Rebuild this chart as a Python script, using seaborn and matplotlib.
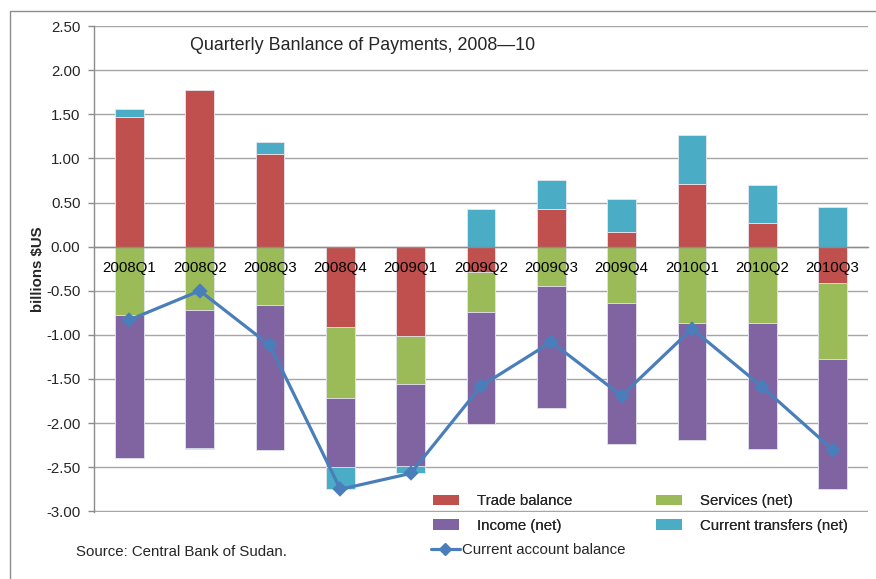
import numpy as np
import pandas as pd
import matplotlib
matplotlib.use("Agg")
import matplotlib.pyplot as plt
from matplotlib.patches import Patch, Rectangle
from matplotlib.lines import Line2D
import seaborn as sns

# Quarterly balance of payments components, billions of US dollars
quarters = ["2008Q1", "2008Q2", "2008Q3", "2008Q4", "2009Q1", "2009Q2",
            "2009Q3", "2009Q4", "2010Q1", "2010Q2", "2010Q3"]
trade_balance = [1.47, 1.77, 1.05, -0.91, -1.01, -0.29, 0.43, 0.17, 0.71, 0.27, -0.41]
services_net = [-0.78, -0.72, -0.66, -0.80, -0.55, -0.45, -0.45, -0.64, -0.87, -0.87, -0.86]
income_net = [-1.61, -1.56, -1.64, -0.79, -0.93, -1.27, -1.38, -1.60, -1.32, -1.42, -1.48]
current_transfers = [0.09, -0.01, 0.14, -0.25, -0.08, 0.43, 0.33, 0.37, 0.55, 0.43, 0.45]
current_account = [-0.83, -0.50, -1.12, -2.75, -2.57, -1.58, -1.08, -1.69, -0.93, -1.59, -2.30]

y_ticks = [2.5, 2.0, 1.5, 1.0, 0.5, 0.0, -0.5, -1.0, -1.5, -2.0, -2.5, -3.0]

series_names = ["Trade balance", "Services (net)", "Income (net)", "Current transfers (net)"]
series_vals = [trade_balance, services_net, income_net, current_transfers]
colors = ["#C0504D", "#9BBB59", "#8064A2", "#4BACC6"]
line_color = "#4A7EBB"

sns.set_theme(style="white")
plt.rcParams["font.family"] = ["Liberation Sans", "DejaVu Sans"]

fig = plt.figure(figsize=(8.76, 5.79), dpi=100)
ax = fig.add_axes([94.3 / 876, 1 - 511.7 / 579, (867.7 - 94.3) / 876, (511.7 - 25.7) / 579])

# Stacked bars: positive and negative parts stacked separately, drawn as
# cumulative bars from the outermost layer inwards
vals = np.array(series_vals)
pos = np.clip(vals, 0, None)
neg = np.clip(vals, None, 0)
cum_pos = np.cumsum(pos, axis=0)
cum_neg = np.cumsum(neg, axis=0)
bar_w = 0.41
for k in range(len(series_names) - 1, -1, -1):
    for cum in (cum_pos, cum_neg):
        df = pd.DataFrame({"quarter": quarters, "value": cum[k]})
        sns.barplot(data=df, x="quarter", y="value", order=quarters, color=colors[k],
                    saturation=1, width=bar_w, edgecolor="#E6E6F0", linewidth=0.6,
                    errorbar=None, ax=ax, zorder=2)

# Current account balance line
df_ca = pd.DataFrame({"quarter": quarters, "value": current_account})
sns.pointplot(data=df_ca, x="quarter", y="value", order=quarters, color=line_color,
              markers="D", markersize=6, linewidth=2.3, errorbar=None, ax=ax, zorder=4)

ax.set_ylim(-3.004, 2.504)
ax.set_xlim(-0.5, len(quarters) - 0.5)
ax.set_yticks(y_ticks)
ax.set_yticklabels([f"{v:.2f}" for v in y_ticks], fontsize=10.8)
ax.yaxis.grid(True, color="#A6A6A6", linewidth=1.0)
ax.set_axisbelow(True)
# category labels sit on top of the bars
ax.xaxis.set_zorder(5)

# Category axis crossing at zero
ax.spines["bottom"].set_position(("data", 0))
ax.spines["top"].set_visible(False)
ax.spines["right"].set_visible(False)
for s in ("bottom", "left"):
    ax.spines[s].set_color("#8C8C8C")
    ax.spines[s].set_linewidth(1.0)
ax.spines["bottom"].set_zorder(3)
ax.set_xticks(range(len(quarters)))
ax.set_xticklabels(quarters, fontsize=10.8)
ax.set_xticks(np.arange(-0.5, len(quarters), 1.0), minor=True)
ax.tick_params(axis="x", which="major", length=0, pad=10, colors="black")
ax.tick_params(axis="x", which="minor", length=4, width=1, color="#8C8C8C", direction="out")
ax.tick_params(axis="y", length=4, width=1, color="#8C8C8C", direction="out", pad=6, left=True)
ax.set_xlabel("")
ax.set_ylabel("billions $US", fontsize=10.8, fontweight="bold", labelpad=1)

ax.text(0.124, 0.960, "Quarterly Banlance of Payments, 2008\u201410", transform=ax.transAxes,
        fontsize=12.9, ha="left", va="center")

# Legend: component patches in two columns, line entry below
patch_handles = [Patch(facecolor=c, edgecolor="none") for c in colors]
order = [0, 2, 1, 3]
leg1 = fig.legend([patch_handles[i] for i in order], [series_names[i] for i in order],
                  ncol=2, loc="upper left", bbox_to_anchor=(433 / 876, 1 - 494 / 579),
                  frameon=False, fontsize=10.8, handlelength=1.75, handleheight=0.67,
                  handletextpad=1.2, columnspacing=5.55, labelspacing=0.72, borderpad=0,
                  borderaxespad=0)
fig.add_artist(leg1)
line_handle = Line2D([], [], color=line_color, linewidth=2.3, marker="D", markersize=6)
fig.legend([line_handle], ["Current account balance"], loc="upper left",
           bbox_to_anchor=(431 / 876, 1 - 543 / 579), frameon=False, fontsize=10.8,
           handlelength=1.9, handletextpad=0.15, borderpad=0, borderaxespad=0)

fig.text(76 / 876, 1 - 552 / 579, "Source: Central Bank of Sudan.", fontsize=10.8,
         ha="left", va="center")

# Chart area border
fig.add_artist(Rectangle((9.5 / 876, -0.2), 1.2, 1.2 - 10.5 / 579,
                         transform=fig.transFigure, fill=False, edgecolor="#8C8C8C",
                         linewidth=1.0))

fig.savefig("out.png", dpi=100)
